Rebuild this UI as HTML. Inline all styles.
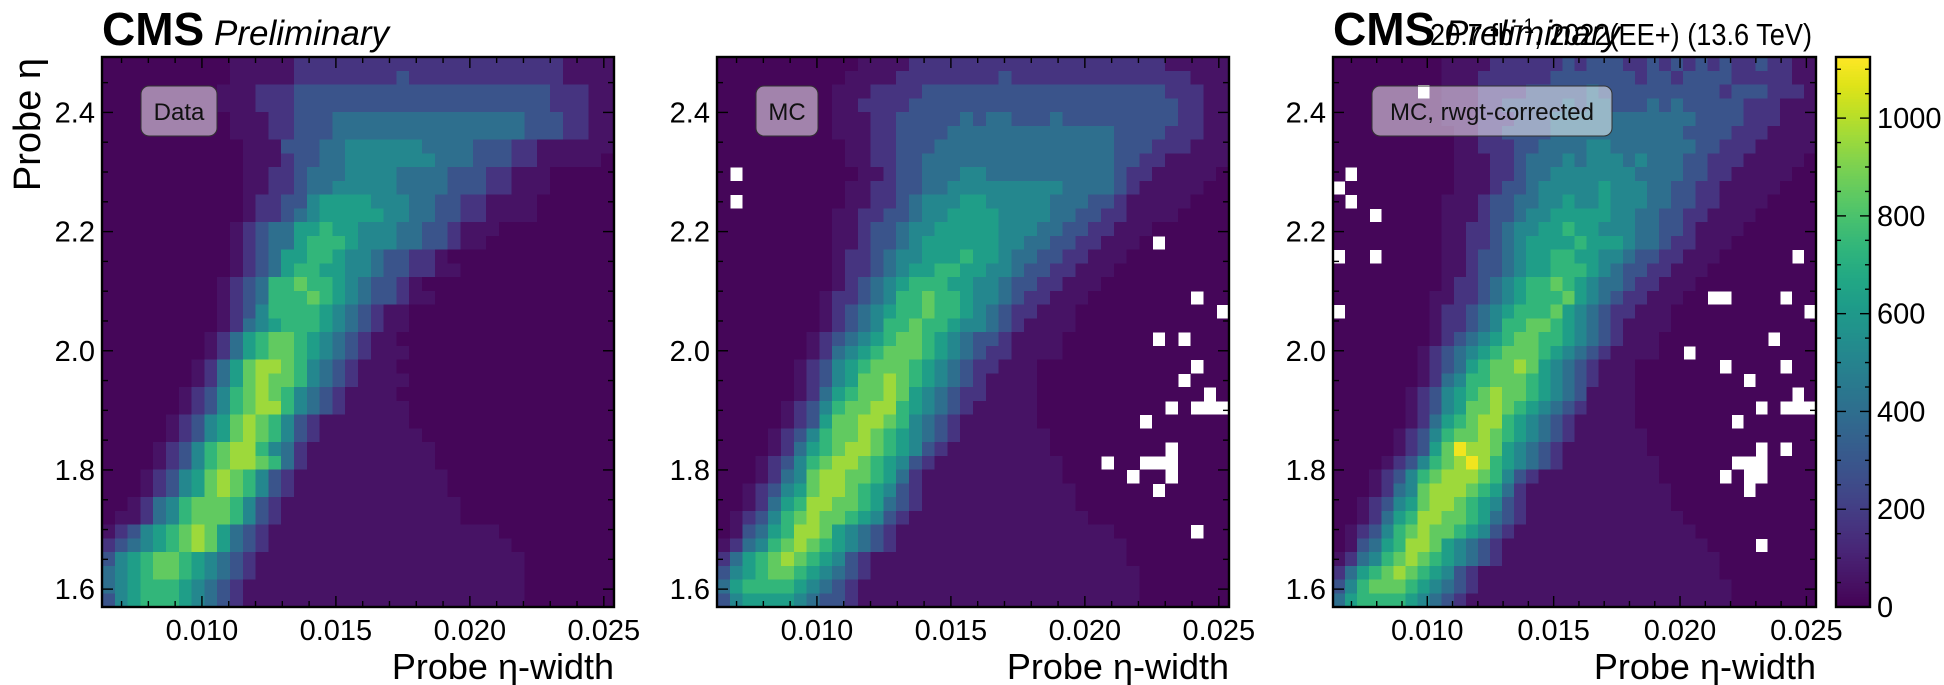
<!DOCTYPE html>
<html><head><meta charset="utf-8">
<style>
html,body{margin:0;padding:0;background:#fff;}
svg{display:block;font-family:"Liberation Sans",sans-serif;}
</style></head>
<body>
<svg id="chart" width="1944" height="685" viewBox="0 0 1944 685" xmlns="http://www.w3.org/2000/svg"></svg>
<script>
// ---- data (bin levels, rows from top eta=2.49 down to 1.58; cols x=0.0063..0.0254) ----
const dataRows = [
"0000000000 1111122222 2222222222 2222221111",
"0000000000 1111122222 2223222222 2222221111",
"0000000001 1122233333 3333333333 3333322211",
"0000000001 1122233333 3333333333 3333322211",
"0000000000 1112233344 4444444444 4443332211",
"0000000000 1112233344 4444444444 4443332211",
"0000000000 0111333445 5555544443 3322111111",
"0000000000 0111233445 5555554443 3322111110",
"0000000000 0112234445 5554444333 2211100000",
"0000000000 0112234455 5554444333 2211100000",
"0000000000 0122335666 6555443322 1111000000",
"0000000000 0122345666 6655443322 1111000000",
"0000000000 1234466766 5554433211 1000000000",
"0000000000 1234467776 5554433211 0000000000",
"0000000000 1234667765 5433221000 0000000000",
"0000000000 1234677665 5433221100 0000000000",
"0000000001 2347787765 4332100000 0000000000",
"0000000001 2347778765 4332110000 0000000000",
"0000000001 2357777654 3211000000 0000000000",
"0000000001 2456777654 3211000000 0000000000",
"0000000012 4678876543 2110000000 0000000000",
"0000000012 4678876543 2111000000 0000000000",
"0000000124 6899875432 1110000000 0000000000",
"0000000124 6898875432 1111000000 0000000000",
"0000001235 7898754321 1110000000 0000000000",
"0000001235 7899754321 1111000000 0000000000",
"0000012356 8987532111 1111000000 0000000000",
"0000012356 8987532111 1111100000 0000000000",
"0000123578 9975421111 1111110000 0000000000",
"0000123578 9987421111 1111110000 0000000000",
"0001235689 8753211111 1111111000 0000000000",
"0001235689 8753211111 1111111000 0000000000",
"0012457888 7532111111 1111111100 0000000000",
"0112457888 7532111111 1111111100 0000000000",
"1235678986 4321111111 1111111111 1000000000",
"2345678986 4321111111 1111111111 1100000000",
"3567887654 3211111111 1111111111 1110000000",
"4567887654 3211111111 1111111111 1110000000",
"4567776543 2111111111 1111111111 1110000000",
"3567776543 2111111111 1111111111 1110000000"
];
const mcRows = [
"0000000000 0111122222 2222222222 2222211111",
"0000000000 1111222222 2232222222 2222222111",
"0000000001 1122223333 3333333333 3333322211",
"0000000001 1222233333 3333333333 3333332211",
"0000000001 1122333334 3443334333 3333332211",
"0000000001 1122333344 4444444444 4333322211",
"0000000000 1122333444 4444444444 4333222111",
"0000000000 1122334444 4444444444 4332211111",
"0000000000 0112334445 5444444444 4322111110",
"0000000000 1122334455 5555555444 4321111100",
"0000000000 1122345556 6555554443 3211111000",
"0000000001 1223345566 6655554433 2211110000",
"0000000001 1233455666 6655544332 2111000000",
"0000000001 1233456666 6655443322 1110000000",
"0000000001 2234556667 6654433221 1100000000",
"0000000001 2234566776 6554332211 1000000000",
"0000000001 2345677766 5543322111 0000000000",
"0000000012 2345778776 5543221110 0000000000",
"0000000012 3456778776 5432211100 0000000000",
"0000000012 3457787765 5432111100 0000000000",
"0000000123 4567887654 3321111000 0000000000",
"0000000124 5678887654 3221111000 0000000000",
"0000001235 6788876543 2211100000 0000000000",
"0000001235 6889876543 2111100000 0000000000",
"0000001246 7889865432 2111100000 0000000000",
"0000012357 8899765432 1111100000 0000000000",
"0000012368 8998754321 1111100000 0000000000",
"0000123578 8987654321 1111110000 0000000000",
"0000124678 9987653211 1111110000 0000000000",
"0001235789 9876532111 1111111000 0000000000",
"0001245899 8876421111 1111111000 0000000000",
"0012356899 8765321111 1111111100 0000000000",
"0012467998 8764321111 1111111100 0000000000",
"0123578988 7653211111 1111111110 0000000000",
"0134679986 5432111111 1111111111 1000000000",
"1245789876 5432111111 1111111111 1100000000",
"2467898765 3211111111 1111111111 1100000000",
"3567887654 3211111111 1111111111 1110000000",
"4677776543 2111111111 1111111111 1110000000",
"3566665433 2111111111 1111111111 1110000000"
];
const rwgtRows = [
"0000000001 1112222223 2333223232 3232232211",
"0000000001 1122222233 3333323323 3332222211",
"0000000001 1122223333 3433333333 3323332221",
"0000000001 1122333334 3443334343 3333222111",
"0000000001 1122233344 4444444444 3333222111",
"0000000000 1122333344 4444444443 3332221111",
"0000000000 1122233444 4554444444 3322211111",
"0000000000 1112234445 4555454443 3222111110",
"0000000000 1112234455 5555544443 3221111100",
"0000000000 1112334555 5565554433 2211111000",
"0000000001 1123344556 5565554433 2211110000",
"0000000001 1123345566 6665544332 2111100000",
"0000000001 1223455667 6655544332 1111000000",
"0000000001 1223456666 7666544322 1110000000",
"0000000001 1233456677 6655433221 1100000000",
"0000000001 1233456677 7654332211 1000000000",
"0000000001 2234567787 6544322111 0000000000",
"0000000011 2234567778 6543221110 0000000000",
"0000000012 2345677786 5432211100 0000000000",
"0000000012 2345778876 5432111100 0000000000",
"0000000012 3456788776 5432111000 0000000000",
"0000000123 4567888765 4321111000 0000000000",
"0000000123 4678898654 3211100000 0000000000",
"0000000124 5778887654 3211100000 0000000000",
"0000001235 6789887654 3111100000 0000000000",
"0000001235 6889876543 2111100000 0000000000",
"0000001246 7899765432 1111100000 0000000000",
"0000012357 8898765432 1111110000 0000000000",
"0000012368 a998654321 1111110000 0000000000",
"0000123578 9a97654321 1111111000 0000000000",
"0001235789 9987532111 1111111000 0000000000",
"0001245899 9876421111 1111111100 0000000000",
"0012356899 8765321111 1111111100 0000000000",
"0012467998 8764321111 1111111110 0000000000",
"0123578988 7653211111 1111111111 0000000000",
"0134679986 5432111111 1111111111 1000000000",
"1245789876 5432111111 1111111111 1100000000",
"2467898765 3211111111 1111111111 1100000000",
"3578887654 3211111111 1111111111 1110000000",
"4677776543 2111111111 1111111111 1110000000"
];
const levelValues = [15, 55, 170, 290, 410, 520, 630, 740, 850, 960, 1100];
const dataEmpty = [];
const mcEmpty = [[8,1],[10,1],[13,34],[17,37],[18,39],[20,34],[20,36],[22,37],[23,36],[24,38],[25,35],[25,37],[25,38],[25,39],[26,33],[28,35],[29,35],[29,30],[29,33],[29,34],[30,32],[30,35],[31,34],[34,37]];
const rwgtEmpty = [[2,7],[8,1],[9,0],[10,1],[11,3],[14,0],[14,3],[18,0],[14,38],[17,31],[17,32],[17,37],[18,39],[20,36],[21,29],[22,32],[22,37],[23,34],[24,38],[25,35],[25,37],[25,38],[25,39],[26,33],[28,35],[28,37],[29,33],[29,34],[29,35],[30,32],[30,34],[30,35],[31,34],[35,35]];
const xTicks = [0.010, 0.015, 0.020, 0.025];
const xTickLabels = ["0.010", "0.015", "0.020", "0.025"];
const yTicks = [1.6, 1.8, 2.0, 2.2, 2.4];
const yTickLabels = ["1.6", "1.8", "2.0", "2.2", "2.4"];
const cbTicks = [0, 200, 400, 600, 800, 1000];
const cbTickLabels = ["0", "200", "400", "600", "800", "1000"];

const XMIN = 0.00627, XMAX = 0.02538, YMIN = 1.570, YMAX = 2.493, NB = 40, VMAX = 1125;
const NS = "http://www.w3.org/2000/svg";
const svg = document.getElementById("chart");
const VIR = ["#440154","#471365","#482475","#463480","#414487","#3b528b","#355f8d","#2f6c8e","#2a788e","#25848e","#21918c","#1e9c89","#22a884","#2fb47c","#44bf70","#5ec962","#7ad151","#9bd93c","#bddf26","#dfe318","#fde725"];
function hex(h){return [parseInt(h.slice(1,3),16),parseInt(h.slice(3,5),16),parseInt(h.slice(5,7),16)];}
function viridis(t){t=Math.max(0,Math.min(1,t));const p=t*(VIR.length-1);const i=Math.min(Math.floor(p),VIR.length-2);const f=p-i;const a=hex(VIR[i]),b=hex(VIR[i+1]);return "rgb("+a.map((v,k)=>Math.round(v+(b[k]-v)*f)).join(",")+")";}
function el(tag, attrs, parent){const e=document.createElementNS(NS,tag);for(const k in attrs)e.setAttribute(k,attrs[k]);(parent||svg).appendChild(e);return e;}

function drawPanel(rows, empty, L, R, T, B, label, boxW, pname){
  const g = el("g", {});
  
  
  const xs = v => L + (v - XMIN) / (XMAX - XMIN) * (R - L);
  const ys = v => B - (v - YMIN) / (YMAX - YMIN) * (B - T);
  const bw = (XMAX - XMIN) / NB, bh = (YMAX - YMIN) / NB;
  const emptySet = new Set(empty.map(p => p[0] + "," + p[1]));
  const cells = el("g", {"shape-rendering":"crispEdges"}, g);
  rows.forEach((rs, r) => {
    const s = rs.replace(/ /g, "");
    for (let c = 0; c < NB; c++) {
      if (emptySet.has(r + "," + c)) continue;
      const ch = s[c] || "0";
      const lvl = ch === "a" ? 10 : parseInt(ch, 10);
      const val = levelValues[lvl];
      const x0 = xs(XMIN + c * bw), x1 = xs(XMIN + (c + 1) * bw);
      const y0 = ys(YMAX - r * bh), y1 = ys(YMAX - (r + 1) * bh);
      const rc = el("rect", {x:x0.toFixed(2), y:y0.toFixed(2), width:(x1-x0+0.6).toFixed(2), height:(y1-y0+0.6).toFixed(2), fill:viridis(val / VMAX)}, cells);
      
      
    }
  });
  const tk = el("g", {stroke:"#000","stroke-width":1.4}, g);
  for (let v = 0.007; v <= 0.0254; v += 0.001) {
    const x = xs(v), major = Math.abs(v*1000 % 5) < 1e-6 || Math.abs(v*1000 % 5 - 5) < 1e-6;
    const len = major ? 11 : 6;
    el("line", {x1:x, y1:B, x2:x, y2:B-len}, tk);
    el("line", {x1:x, y1:T, x2:x, y2:T+len}, tk);
  }
  for (let v = 1.6; v <= 2.49; v += 0.05) {
    const y = ys(v), major = Math.abs((v*10) % 2) < 1e-6 || Math.abs((v*10) % 2 - 2) < 1e-6;
    const len = major ? 11 : 6;
    el("line", {x1:L, y1:y, x2:L+len, y2:y}, tk);
    el("line", {x1:R, y1:y, x2:R-len, y2:y}, tk);
  }
  const fr = el("rect", {x:L, y:T, width:R-L, height:B-T, fill:"none", stroke:"#000", "stroke-width":2.4}, g);
  
  
  xTicks.forEach((v, i) => {
    const t = el("text", {x:xs(v), y:640, "font-size":29, "text-anchor":"middle"}, g);
    t.textContent = xTickLabels[i];
    
    
  });
  yTicks.forEach((v, i) => {
    const t = el("text", {x:L-7, y:ys(v)+10, "font-size":29, "text-anchor":"end"}, g);
    t.textContent = yTickLabels[i];
    
    
  });
  const xl = el("text", {x:R, y:679, "font-size":36, "text-anchor":"end"}, g);
  xl.textContent = "Probe η-width";
  
  
  const bx = L + 39, by = 86;
  const box = el("rect", {x:bx, y:by, width:boxW, height:50, rx:8, fill:"rgba(255,255,255,0.5)", stroke:"#333", "stroke-width":1}, g);
  
  
  const bt = el("text", {x:bx + boxW/2, y:by+34, "font-size":24, "text-anchor":"middle", fill:"#111"}, g);
  bt.textContent = label;
  
  
}

drawPanel(dataRows, dataEmpty, 102, 614, 57, 607, "Data", 76, "panel-data");
drawPanel(mcRows, mcEmpty, 717, 1229, 57, 607, "MC", 62, "panel-mc");
drawPanel(rwgtRows, rwgtEmpty, 1333, 1816, 57, 607, "MC, rwgt-corrected", 240, "panel-mc-rwgt");

const yl = el("text", {x:0, y:0, "font-size":38, "text-anchor":"end", transform:"translate(40,58) rotate(-90)"});
yl.textContent = "Probe η";



function cms(x, name){
  const t = el("text", {x:x, y:45, "font-size":46, "font-weight":"bold"});
  t.textContent = "CMS";
  
  
  const p = el("text", {x:x+112, y:45, "font-size":35, "font-style":"italic"});
  p.textContent = "Preliminary";
  
  
}
cms(102, "cms-label");
cms(1333, "cms-label-right");
const lumi = el("text", {x:1430, y:45, "font-size":31, textLength:382, lengthAdjust:"spacingAndGlyphs"});
lumi.innerHTML = '20.7 fb<tspan dy="-12" font-size="21">−1</tspan><tspan dy="12">, 2022(EE+) (13.6 TeV)</tspan>';



const CL = 1836, CR = 1870, CT = 57, CB = 607;
const cy = v => CB - v / VMAX * (CB - CT);
const cbg = el("g", {"shape-rendering":"crispEdges"});


for (let i = 0; i < 200; i++) {
  const y0 = CB - (i+1) * (CB-CT)/200;
  el("rect", {x:CL, y:y0, width:CR-CL, height:(CB-CT)/200+0.8, fill:viridis((i+0.5)/200)}, cbg);
}
const cbt = el("g", {stroke:"#000","stroke-width":1.4});
for (let v = 0; v <= VMAX; v += 50) {
  const len = v % 200 === 0 ? 10 : 5;
  el("line", {x1:CR, y1:cy(v), x2:CR-len, y2:cy(v)}, cbt);
  el("line", {x1:CL, y1:cy(v), x2:CL+len, y2:cy(v)}, cbt);
}
el("rect", {x:CL, y:CT, width:CR-CL, height:CB-CT, fill:"none", stroke:"#000", "stroke-width":2.4});
cbTicks.forEach((v, i) => {
  const t = el("text", {x:CR+7, y:cy(v)+10, "font-size":29});
  t.textContent = cbTickLabels[i];
  
  
});
</script>
</body></html>
